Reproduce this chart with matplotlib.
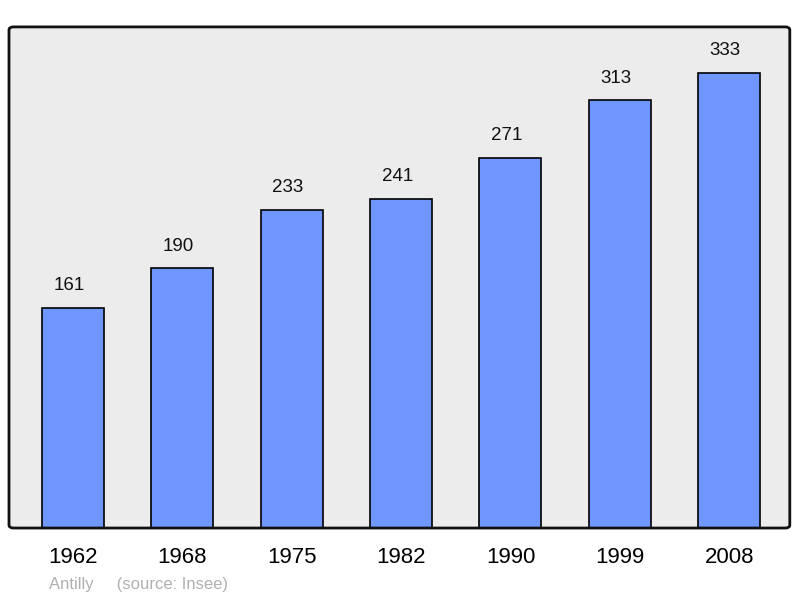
import matplotlib
matplotlib.use("Agg")
import matplotlib.pyplot as plt
from matplotlib.patches import FancyBboxPatch

plt.rcParams['font.family'] = ['Liberation Sans', 'DejaVu Sans']

years = ['1962', '1968', '1975', '1982', '1990', '1999', '2008']
population = [161, 190, 233, 241, 271, 313, 333]

fig = plt.figure(figsize=(8, 5.98), dpi=100)
ax = fig.add_axes([0.01125, 0.117, 0.976, 0.838])
ax.set_facecolor('#ececec')

x = list(range(len(years)))
ax.bar(x, population, width=0.567, color='#7097ff', edgecolor='black', linewidth=1.2, zorder=2)
for xi, v in zip(x, population):
    ax.text(xi - 0.035, v + 10, str(v), ha='center', va='bottom', fontsize=13.5, color='#111111')

ax.set_xlim(-0.585, 6.554)
ax.set_ylim(0, 366.7)
ax.set_yticks([])
ax.set_xticks(x)
ax.set_xticklabels(years, fontsize=16)
ax.tick_params(axis='x', length=0, pad=14)
for s in ax.spines.values():
    s.set_visible(False)

# cadre arrondi
frame = FancyBboxPatch((0, 0), 1, 1, boxstyle='round,pad=0,rounding_size=0.006',
                       transform=ax.transAxes, fill=False, edgecolor='#111111',
                       linewidth=2, clip_on=False, zorder=3)
ax.add_patch(frame)

fig.text(49/800, 1 - 584/598, 'Antilly     (source: Insee)', fontsize=12,
         color='#b0b0b0', va='center', ha='left')

fig.savefig('out.png', dpi=100)
